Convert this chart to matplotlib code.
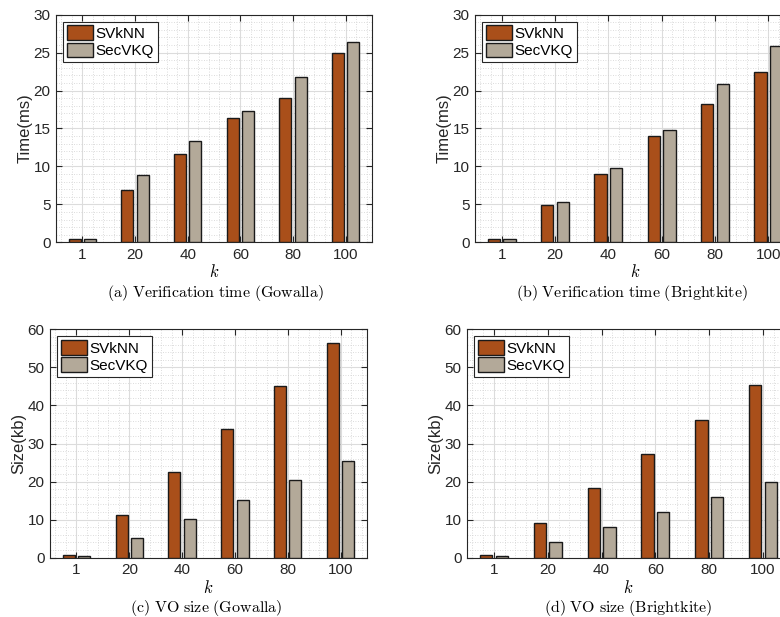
import matplotlib

matplotlib.use("Agg")

import matplotlib.pyplot as plt
import numpy as np
from matplotlib.ticker import MultipleLocator

plt.rcParams["mathtext.fontset"] = "cm"
plt.rcParams["font.family"] = ["Liberation Sans", "DejaVu Sans"]

k_labels = ["1", "20", "40", "60", "80", "100"]
series_names = ["SVkNN", "SecVKQ"]

time_gowalla_svknn = [0.45, 6.85, 11.6, 16.4, 19.0, 25.0]
time_gowalla_secvkq = [0.5, 8.83, 13.35, 17.25, 21.85, 26.45]
time_bright_svknn = [0.4, 4.96, 8.96, 14.05, 18.2, 22.4]
time_bright_secvkq = [0.4, 5.27, 9.84, 14.76, 20.8, 25.87]
vo_gowalla_svknn = [0.6, 11.2, 22.5, 33.8, 45.0, 56.3]
vo_gowalla_secvkq = [0.35, 5.08, 10.16, 15.24, 20.3, 25.4]
vo_bright_svknn = [0.6, 9.1, 18.2, 27.2, 36.3, 45.4]
vo_bright_secvkq = [0.35, 4.0, 7.97, 11.9, 15.85, 19.8]

captions = [
    r"$\mathrm{(a)\ Verification\ time\ (Gowalla)}$",
    r"$\mathrm{(b)\ Verification\ time\ (Brightkite)}$",
    r"$\mathrm{(c)\ VO\ size\ (Gowalla)}$",
    r"$\mathrm{(d)\ VO\ size\ (Brightkite)}$",
]

W, H = 780, 617
fig = plt.figure(figsize=(W / 100, H / 100), dpi=100)

# axes boxes in pixels: left, right, top, bottom
boxes = [
    (56, 372, 14.7, 242.3),
    (475, 795, 14.7, 242.3),
    (50, 367, 329.3, 557.7),
    (467, 790, 329.3, 557.7),
]
caption_pos = [(215, 293), (632, 293), (206, 608), (628, 608)]
panels = [
    (time_gowalla_svknn, time_gowalla_secvkq, "Time(ms)", 30, 5, 1),
    (time_bright_svknn, time_bright_secvkq, "Time(ms)", 30, 5, 1),
    (vo_gowalla_svknn, vo_gowalla_secvkq, "Size(kb)", 60, 10, 2),
    (vo_bright_svknn, vo_bright_secvkq, "Size(kb)", 60, 10, 2),
]
colors = ["#A94F1A", "#B3A999"]

x = np.arange(1, len(k_labels) + 1)
width = 0.23
offset = 0.145

for i, ((l, r, t, b), (s1, s2, ylab, ymax, ymaj, ymin)) in enumerate(zip(boxes, panels)):
    ax = fig.add_axes([l / W, 1 - b / H, (r - l) / W, (b - t) / H])
    ax.bar(x - offset, s1, width, color=colors[0], edgecolor="#1a1a1a",
           linewidth=1.0, label=series_names[0], zorder=3)
    ax.bar(x + offset, s2, width, color=colors[1], edgecolor="#1a1a1a",
           linewidth=1.0, label=series_names[1], zorder=3)
    ax.set_xlim(0.5, 6.5)
    ax.set_ylim(0, ymax)
    ax.set_xticks(x)
    ax.set_xticklabels(k_labels)
    ax.yaxis.set_major_locator(MultipleLocator(ymaj))
    ax.yaxis.set_minor_locator(MultipleLocator(ymin))
    ax.xaxis.set_minor_locator(MultipleLocator(0.2))
    ax.grid(which="major", color="#dcdcdc", linewidth=0.8, zorder=0)
    ax.grid(which="minor", color="#d0d0d0", linewidth=0.6, linestyle=(0, (1, 2)), zorder=0)
    ax.set_axisbelow(True)
    ax.tick_params(which="major", direction="in", top=True, right=True, length=4,
                   labelsize=11, colors="#262626", pad=4)
    ax.tick_params(which="minor", length=0)
    for sp in ax.spines.values():
        sp.set_color("#262626")
        sp.set_linewidth(0.8)
    ax.set_ylabel(ylab, fontsize=12, color="#262626", labelpad=0.5)
    ax.set_xlabel(r"$k$", fontsize=12, labelpad=1)
    leg = ax.legend(loc="upper left", fontsize=11, frameon=True, fancybox=False,
                    handlelength=1.75, handleheight=1.1, handletextpad=0.15,
                    borderpad=0.25, labelspacing=0.12, borderaxespad=0.45)
    leg.get_frame().set_edgecolor("#262626")
    leg.get_frame().set_linewidth(0.8)
    leg.get_frame().set_alpha(1)
    cap_x, cap_y = caption_pos[i]
    fig.text(cap_x / W, 1 - cap_y / H, captions[i], ha="center", va="center", fontsize=11.5)

fig.savefig("out.png", dpi=100)
